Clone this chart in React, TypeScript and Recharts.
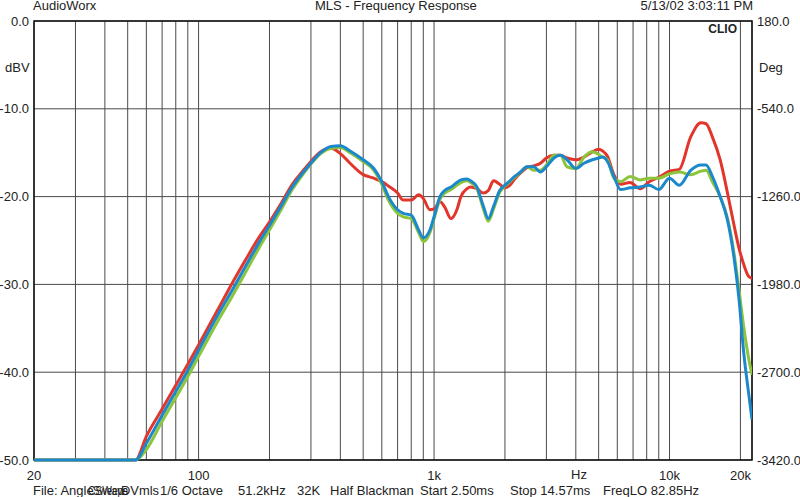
import React from 'react';
import { LineChart, Line, XAxis, YAxis, CartesianGrid, ReferenceArea } from 'recharts';

// frequency points (Hz) shared by the three curves
const FREQ = [
  20, 54, 60, 70, 80, 90, 100, 120, 140, 160,
  180, 200, 225, 250, 275, 300, 330, 365, 400, 440,
  500, 555, 600, 640, 700, 740, 800, 860, 900, 960,
  1000, 1060, 1110, 1180, 1250, 1300, 1380, 1430, 1520, 1620,
  1700, 1790, 1900, 2000, 2100, 2200, 2330, 2480, 2650, 2830,
  3000, 3230, 3440, 3670, 4000, 4330, 4700, 5000, 5200, 5450,
  5800, 6200, 6800, 7500, 8200, 9000, 10000, 11000, 12300, 13600,
  14300, 15200, 16400, 17600, 18800, 19700, 20700, 21700, 22400,
];

// dBV
const RED = [
  -50, -50, -47.3, -44.2, -41.5, -39.1, -36.9, -33.0, -29.7, -27.0,
  -24.7, -22.9, -20.7, -18.6, -17.2, -16.0, -14.9, -14.5, -15.1, -16.2,
  -17.5, -17.9, -18.3, -18.8, -19.6, -20.4, -20.4, -19.8, -20.2, -21.5,
  -21.4, -20.6, -21.2, -22.5, -21.5, -20.0, -19.1, -18.9, -19.1, -19.6,
  -19.3, -18.2, -18.6, -19.0, -18.7, -18.0, -17.3, -16.7, -16.5, -16.2,
  -15.6, -15.3, -15.3, -15.6, -15.8, -15.5, -14.9, -14.6, -14.8, -15.4,
  -17.5, -18.6, -18.4, -19.1, -18.3, -17.8, -17.1, -16.9, -13.2, -11.6,
  -11.7, -13.2, -15.8, -19.5, -23.3, -25.8, -27.8, -29.1, -29.3,
];

const GREEN = [
  -50, -50, -48.8, -45.6, -42.9, -40.5, -38.2, -34.3, -31.2, -28.4,
  -25.9, -23.8, -21.4, -19.2, -17.6, -16.3, -15.1, -14.5, -14.4, -15.0,
  -16.0, -17.0, -18.6, -20.4, -21.9, -22.3, -22.5, -24.1, -25.1, -24.1,
  -22.5, -20.3, -19.6, -19.2, -18.7, -18.4, -18.2, -18.4, -19.1, -21.4,
  -22.8, -21.4, -19.5, -18.8, -18.3, -17.8, -17.2, -16.6, -17.0, -17.0,
  -16.4, -15.3, -15.3, -16.6, -16.8, -15.5, -14.9, -15.2, -15.5, -15.8,
  -17.9, -18.3, -17.7, -18.1, -17.9, -17.9, -17.4, -17.2, -17.5, -17.1,
  -17.0, -18.3, -20.0, -22.4, -26.5, -30.5, -35.0, -38.5, -40.3,
];

const BLUE = [
  -50, -50, -48.1, -44.9, -42.2, -39.8, -37.5, -33.6, -30.5, -27.7,
  -25.3, -23.3, -21.0, -18.9, -17.4, -16.2, -15.0, -14.3, -14.2, -14.8,
  -15.8, -16.8, -18.3, -20.0, -21.5, -21.9, -22.1, -23.8, -24.7, -23.8,
  -22.3, -20.0, -19.3, -18.9, -18.4, -18.1, -18.0, -18.2, -18.9, -21.1,
  -22.5, -21.1, -19.3, -18.7, -18.2, -17.7, -17.2, -16.6, -16.6, -17.2,
  -16.6, -15.6, -15.3, -15.8, -16.8, -16.2, -15.8, -15.6, -15.5, -16.0,
  -17.7, -19.2, -19.0, -18.9, -18.7, -19.2, -17.9, -18.7, -17.0, -16.4,
  -16.4, -17.7, -20.0, -22.6, -27.0, -31.5, -38.0, -42.5, -45.4,
];

const GRID_FREQ = [
  20, 30, 40, 50, 60, 70, 80, 90,
  100, 200, 300, 400, 500, 600, 700, 800, 900,
  1000, 2000, 3000, 4000, 5000, 6000, 7000, 8000, 9000,
  10000, 20000,
];
const FREQ_LABELS: Record<number, string> = { 20: '20', 100: '100', 1000: '1k', 10000: '10k', 20000: '20k' };
const DB_TICKS = [-50, -40, -30, -20, -10, 0];
const DEG_TICKS = [-3420, -2700, -1980, -1260, -540, 180];
const MINOR_DB = Array.from({ length: 51 }, (_, i) => -50 + i);

const FONT = '"Liberation Sans", Arial, sans-serif';

const data = FREQ.map((f, i) => ({ f, red: RED[i], green: GREEN[i], blue: BLUE[i] }));

const tickStyle = { fontSize: 13, fill: '#222', fontFamily: FONT };

export default function App() {
  return (
    <div style={{ position: 'absolute', left: 0, top: 0, width: 800, height: 497, background: '#fff', fontFamily: FONT }}>
      <LineChart width={800} height={497} data={data} margin={{ top: 21, right: 0, bottom: 0, left: 0 }}>
        <CartesianGrid yAxisId="db" stroke="#4a4a4a" strokeWidth={1} />
        <XAxis
          dataKey="f"
          type="number"
          scale="log"
          domain={[20, 22400]}
          allowDataOverflow
          ticks={GRID_FREQ}
          interval={0}
          tickFormatter={(v: number) => FREQ_LABELS[v] ?? ''}
          height={37}
          tickLine={false}
          axisLine={false}
          tickSize={0}
          tickMargin={11}
          tick={tickStyle}
        />
        <YAxis
          yAxisId="db"
          domain={[-50, 0]}
          ticks={DB_TICKS}
          interval={0}
          width={34}
          tickFormatter={(v: number) => v.toFixed(1)}
          tickLine={false}
          axisLine={false}
          tickSize={5}
          tickMargin={0}
          tick={tickStyle}
        />
        <YAxis
          yAxisId="deg"
          orientation="right"
          domain={[-3420, 180]}
          ticks={DEG_TICKS}
          interval={0}
          width={48}
          tickFormatter={(v: number) => v.toFixed(1)}
          tickLine={false}
          axisLine={false}
          tickSize={5}
          tickMargin={0}
          tick={tickStyle}
        />
        <YAxis yAxisId="minorL" mirror domain={[-50, 0]} ticks={MINOR_DB} interval={0} tick={false} tickSize={3} axisLine={false} tickLine={{ stroke: '#333' }} />
        <YAxis yAxisId="minorR" orientation="right" mirror domain={[-50, 0]} ticks={MINOR_DB} interval={0} tick={false} tickSize={3} axisLine={false} tickLine={{ stroke: '#333' }} />
        {/* invisible series so the phase axis and the minor-tick axes get drawn */}
        <Line yAxisId="deg" dataKey="blue" stroke="transparent" dot={false} activeDot={false} isAnimationActive={false} />
        <Line yAxisId="minorL" dataKey="blue" stroke="transparent" dot={false} activeDot={false} isAnimationActive={false} />
        <Line yAxisId="minorR" dataKey="blue" stroke="transparent" dot={false} activeDot={false} isAnimationActive={false} />
        <Line yAxisId="db" type="monotone" dataKey="red" stroke="#e2362c" strokeWidth={3} dot={false} isAnimationActive={false} />
        <Line yAxisId="db" type="monotone" dataKey="green" stroke="#8cc43c" strokeWidth={3} dot={false} isAnimationActive={false} />
        <Line yAxisId="db" type="monotone" dataKey="blue" stroke="#1c88cc" strokeWidth={3} dot={false} isAnimationActive={false} />
        <ReferenceArea yAxisId="db" x1={20} x2={22400} y1={-50} y2={0} fill="none" stroke="#111" strokeWidth={1.5} ifOverflow="visible" />
      </LineChart>
      <svg width={800} height={497} style={{ position: 'absolute', left: 0, top: 0, pointerEvents: 'none' }} fontFamily={FONT} fontSize={13} fill="#222">
        <text x={33} y={10}>AudioWorx</text>
        <text x={315} y={10}>MLS - Frequency Response</text>
        <text x={753} y={10} textAnchor="end">5/13/02 3:03:11 PM</text>
        <text x={5} y={71.5}>dBV</text>
        <text x={759} y={71.5}>Deg</text>
        <text x={737} y={33} textAnchor="end" fontWeight="bold" fontSize={12}>CLIO</text>
        <text x={579} y={479} textAnchor="middle">Hz</text>
        <text x={33} y={495}>File: Angle</text>
        <text x={88} y={495} textLength={40} lengthAdjust="spacingAndGlyphs">CSWave</text>
        <text x={93} y={495} textLength={35} lengthAdjust="spacingAndGlyphs">Sweeps</text>
        <text x={121} y={495} textLength={38} lengthAdjust="spacingAndGlyphs">DVmls</text>
        <text x={160} y={495}>1/6 Octave</text>
        <text x={238} y={495}>51.2kHz</text>
        <text x={297} y={495}>32K</text>
        <text x={330} y={495}>Half Blackman</text>
        <text x={420} y={495}>Start 2.50ms</text>
        <text x={510} y={495}>Stop 14.57ms</text>
        <text x={603} y={495}>FreqLO 82.85Hz</text>
      </svg>
    </div>
  );
}
